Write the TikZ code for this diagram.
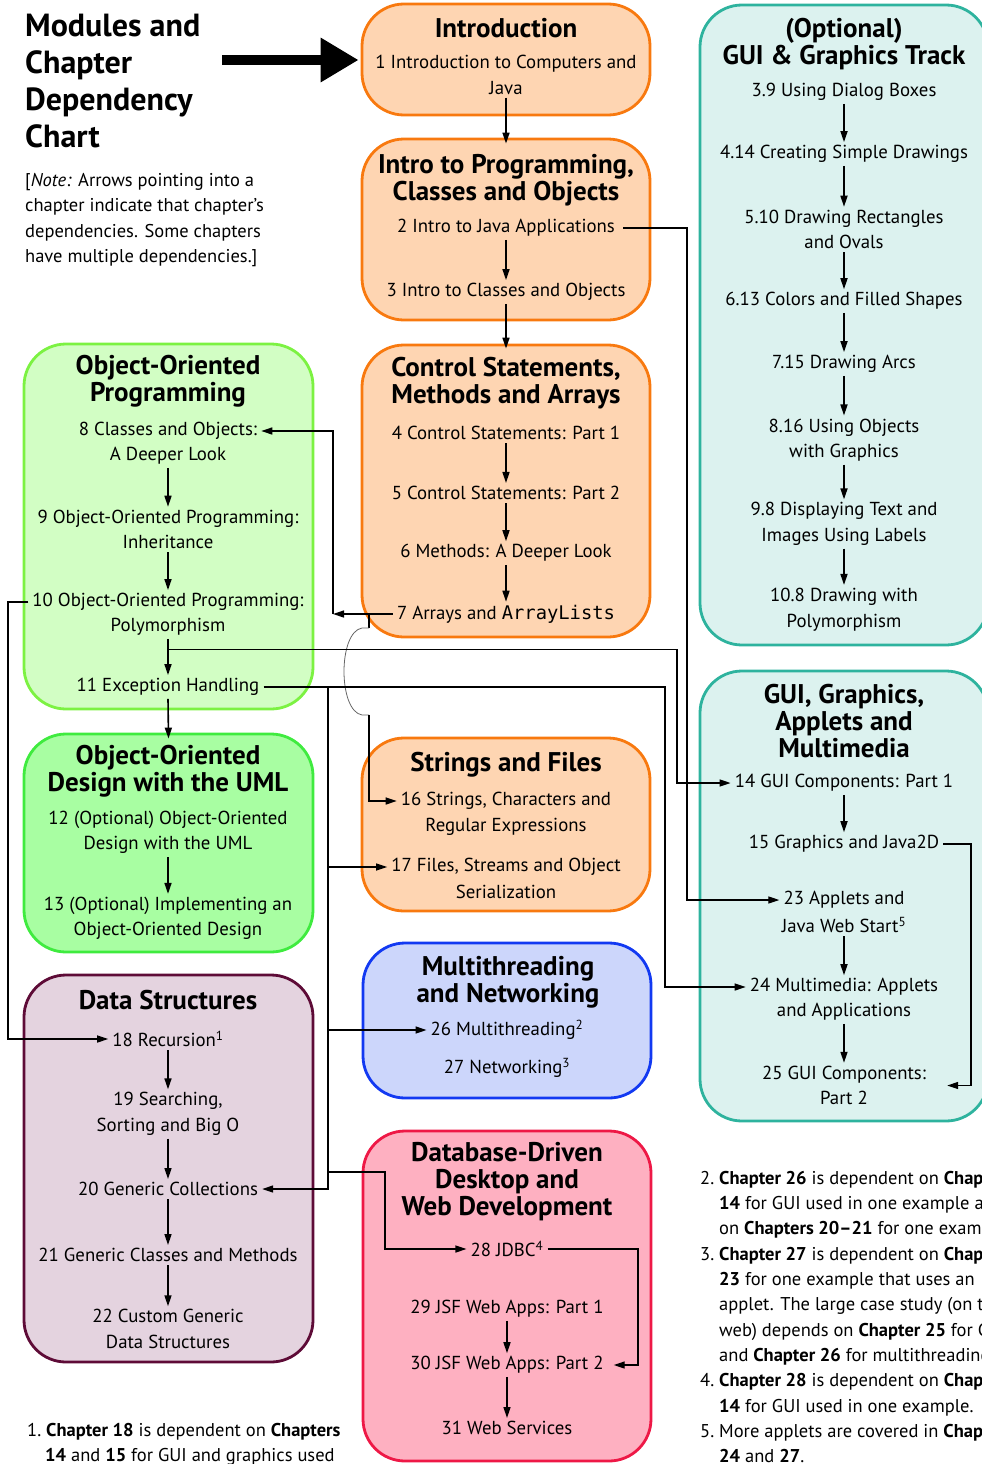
\documentclass[tikz,border=0pt]{standalone}
\usepackage{fontspec}
\setmainfont{PT Sans}
\newfontfamily\codefont{DejaVu Sans Mono}
\usetikzlibrary{arrows.meta,calc}
\definecolor{oF}{HTML}{FED5B2}
\definecolor{oD}{HTML}{F8790F}
\definecolor{gaF}{HTML}{D2FEC4}
\definecolor{gaD}{HTML}{7CF242}
\definecolor{gbF}{HTML}{A8FEA2}
\definecolor{gbD}{HTML}{3FEB3F}
\definecolor{dsF}{HTML}{E4D3DF}
\definecolor{dsD}{HTML}{5E0B37}
\definecolor{bF}{HTML}{CCD6FB}
\definecolor{bD}{HTML}{1239F2}
\definecolor{rF}{HTML}{FEB0C1}
\definecolor{rD}{HTML}{EE1846}
\definecolor{tF}{HTML}{DCF2EF}
\definecolor{tD}{HTML}{2EB39E}
\begin{document}
\begin{tikzpicture}[x=1pt,y=-1pt,
  box/.style={rectangle, rounded corners=42pt, line width=2.8pt, inner sep=0pt},
  obox/.style={box, draw=oD, fill=oF},
  gabox/.style={box, draw=gaD, fill=gaF},
  gbbox/.style={box, draw=gbD, fill=gbF},
  dsbox/.style={box, draw=dsD, fill=dsF},
  bbox/.style={box, draw=bD, fill=bF},
  rbox/.style={box, draw=rD, fill=rF},
  tbox/.style={box, draw=tD, fill=tF},
  ttl/.style={font=\bfseries\fontsize{27}{27}\selectfont, align=center, inner sep=0pt},
  ch/.style={font=\fontsize{18.8}{25.5}\selectfont, align=center, inner xsep=4pt, inner ysep=3pt},
  fn/.style={font=\fontsize{18.5}{25.3}\selectfont, align=left, inner sep=0pt, anchor=west},
  arr/.style={line width=1.3pt, -{Triangle[length=11pt,width=7pt]}},
  chain/.style={line width=1.6pt, -{Triangle[length=11pt,width=7pt]}},
  ln/.style={line width=1.3pt},
  hopln/.style={line width=0.8pt, draw=black!60},
  bigarrow/.style={line width=10pt, -{Triangle[length=38pt,width=42pt]}}
]
\useasboundingbox (0,0) rectangle (982,1464);
\clip (0,0) rectangle (982,1464);

% ---------- boxes ----------
\node[obox, minimum width=288pt, minimum height=111pt] (bIntro) at (506,59.5) {};
\node[obox, minimum width=288pt, minimum height=181pt] (bIntro2) at (506,229.5) {};
\node[obox, minimum width=288pt, minimum height=292pt] (bCtrl) at (506,491) {};
\node[obox, minimum width=288pt, minimum height=173pt] (bStr) at (506,824.5) {};
\node[bbox, minimum width=288pt, minimum height=155pt] (bMT) at (507,1020.5) {};
\node[rbox, minimum width=288pt, minimum height=330pt] (bDB) at (507,1296) {};
\node[gabox, minimum width=289pt, minimum height=365pt] (bOOP) at (168.5,526.5) {};
\node[gbbox, minimum width=289pt, minimum height=218pt] (bOOD) at (168.5,843) {};
\node[dsbox, minimum width=289pt, minimum height=387pt] (bDS) at (168.5,1168.5) {};
\node[tbox, minimum width=288pt, minimum height=640pt] (bGT) at (844,325) {};
\node[tbox, minimum width=288pt, minimum height=450pt] (bGUI) at (844,896) {};

% ---------- header ----------
\node[font=\bfseries\fontsize{32}{37.3}\selectfont, align=left, inner sep=0pt, anchor=west] (hdr) at (25,81) {Modules and\\Chapter\\Dependency\\Chart};
\node[fn] (note) at (25,220) {[\textit{Note:} Arrows pointing into a\\chapter indicate that chapter’s\\dependencies. Some chapters\\have multiple dependencies.]};
\coordinate (bigS) at (222,60);

% ---------- titles ----------
\node[ttl] (tIntro) at (506,28) {Introduction};
\node[ttl] (tIntro2) at (506,180) {Intro to Programming,\\Classes and Objects};
\node[ttl] (tCtrl) at (506,383) {Control Statements,\\Methods and Arrays};
\node[ttl] (tStr) at (506,765) {Strings and Files};
\node[ttl] (tMT) at (508,982) {Multithreading\\and Networking};
\node[ttl] (tDB) at (507,1182) {Database-Driven\\Desktop and\\Web Development};
\node[ttl] (tOOP) at (168,381) {Object-Oriented\\Programming};
\node[ttl] (tOOD) at (168,771) {Object-Oriented\\Design with the UML};
\node[ttl] (tDS) at (168,1000) {Data Structures};
\node[ttl] (tGT) at (844,44.5) {(Optional)\\GUI \& Graphics Track};
\node[ttl] (tGUI) at (844,721) {GUI, Graphics,\\Applets and\\Multimedia};

% ---------- chapters ----------
\node[ch] (ch1) at (506,75) {1 Introduction to Computers and\\Java};
\node[ch] (ch2) at (506,228) {2 Intro to Java Applications};
\node[ch] (ch3) at (506,292) {3 Intro to Classes and Objects};
\node[ch] (ch4) at (506,433) {4 Control Statements: Part 1};
\node[ch] (ch5) at (506,493) {5 Control Statements: Part 2};
\node[ch] (ch6) at (506,553) {6 Methods: A Deeper Look};
\node[ch] (ch7) at (506,614) {7 Arrays and {\codefont ArrayLists}};
\node[ch] (ch16a) at (506,801) {16 Strings, Characters and};
\node[ch] (ch16b) at (506,827) {Regular Expressions};
\node[ch] (ch17a) at (506,867) {17 Files, Streams and Object};
\node[ch] (ch17b) at (506,892) {Serialization};
\node[ch] (ch26) at (507,1030) {26 Multithreading\textsuperscript{2}};
\node[ch] (ch27) at (507,1068) {27 Networking\textsuperscript{3}};
\node[ch] (ch28) at (507,1249) {28 JDBC\textsuperscript{4}};
\node[ch] (ch29) at (507,1309) {29 JSF Web Apps: Part 1};
\node[ch] (ch30) at (507,1365) {30 JSF Web Apps: Part 2};
\node[ch] (ch31) at (507,1428) {31 Web Services};
\node[ch] (ch8a) at (168,431) {8 Classes and Objects:};
\node[ch] (ch8b) at (168,456) {A Deeper Look};
\node[ch] (ch9) at (168,529.5) {9 Object-Oriented Programming:\\Inheritance};
\node[ch] (ch10a) at (168,602) {10 Object-Oriented Programming:};
\node[ch] (ch10b) at (168,627) {Polymorphism};
\node[ch] (ch11) at (168,687) {11 Exception Handling};
\node[ch] (ch12) at (168,832.5) {12 (Optional) Object-Oriented\\Design with the UML};
\node[ch] (ch13) at (168,918.5) {13 (Optional) Implementing an\\Object-Oriented Design};
\node[ch] (ch18) at (168,1039) {18 Recursion\textsuperscript{1}};
\node[ch] (ch19) at (168,1114) {19 Searching,\\Sorting and Big O};
\node[ch] (ch20) at (168,1189) {20 Generic Collections};
\node[ch] (ch21) at (168,1255) {21 Generic Classes and Methods};
\node[ch] (ch22) at (168,1329) {22 Custom Generic\\Data Structures};
\node[ch] (g3) at (844,92) {3.9 Using Dialog Boxes};
\node[ch] (g4) at (844,154) {4.14 Creating Simple Drawings};
\node[ch] (g5) at (844,229.5) {5.10 Drawing Rectangles\\and Ovals};
\node[ch] (g6) at (844,301) {6.13 Colors and Filled Shapes};
\node[ch] (g7) at (844,364) {7.15 Drawing Arcs};
\node[ch] (g8) at (844,440) {8.16 Using Objects\\with Graphics};
\node[ch] (g9) at (844,524) {9.8 Displaying Text and\\Images Using Labels};
\node[ch] (g10) at (844,609.5) {10.8 Drawing with\\Polymorphism};
\node[ch] (ch14) at (844,783) {14 GUI Components: Part 1};
\node[ch] (ch15) at (844,844) {15 Graphics and Java2D};
\node[ch] (ch23a) at (844,900) {23 Applets and};
\node[ch] (ch23b) at (844,925) {Java Web Start\textsuperscript{5}};
\node[ch] (ch24a) at (844,987) {24 Multimedia: Applets};
\node[ch] (ch24b) at (844,1012) {and Applications};
\node[ch] (ch25) at (844,1085.5) {25 GUI Components:\\Part 2};

% ---------- footnotes ----------
\node[fn] (fnL) at (27,1444) {1.\ \textbf{Chapter 18} is dependent on \textbf{Chapters}\\\hspace*{18pt}\textbf{14} and \textbf{15} for GUI and graphics used};
\node[fn] (fnR) at (700,1317) {2.\ \textbf{Chapter 26} is dependent on \textbf{Chapter}\\
\hspace*{19pt}\textbf{14} for GUI used in one example and\\
\hspace*{19pt}on \textbf{Chapters 20–21} for one example.\\
3.\ \textbf{Chapter 27} is dependent on \textbf{Chapter}\\
\hspace*{19pt}\textbf{23} for one example that uses an\\
\hspace*{19pt}applet. The large case study (on the\\
\hspace*{19pt}web) depends on \textbf{Chapter 25} for GUI\\
\hspace*{19pt}and \textbf{Chapter 26} for multithreading.\\
4.\ \textbf{Chapter 28} is dependent on \textbf{Chapter}\\
\hspace*{19pt}\textbf{14} for GUI used in one example.\\
5.\ More applets are covered in \textbf{Chapters}\\
\hspace*{19pt}\textbf{24} and \textbf{27}.};

% ---------- corridor coordinates ----------
\coordinate (vA) at (687,0);
\coordinate (vB) at (677,0);
\coordinate (vC) at (665,0);
\coordinate (vD) at (328,0);
\coordinate (vE) at (333,0);
\coordinate (vF) at (369,0);
\coordinate (vG) at (8,0);
\coordinate (vH) at (385,0);
\coordinate (vI) at (638,0);
\coordinate (vJ) at (971,0);
\coordinate (hop1) at (369,628);
\coordinate (hop2) at (369,715);
\coordinate (b28) at (328,1172);
\coordinate (j10) at ($(ch10b.south)!0.3!(ch11.north)$);

% ---------- connectors ----------
\draw[bigarrow] (bigS) -- ($(bIntro.west)+(-2,0.5)$);
\draw[chain] (ch1.south) -- ($(bIntro2.north)+(0,6)$);
\draw[chain] (ch3.south) -- ($(bCtrl.north)+(0,5)$);
\draw[chain] (ch11.south) -- ($(bOOD.north)+(0,6)$);
\foreach \a/\b in {ch2/ch3, ch4/ch5, ch5/ch6, ch6/ch7, ch8b/ch9, ch9/ch10a, ch10b/ch11,
  ch12/ch13, ch18/ch19, ch19/ch20, ch20/ch21, ch21/ch22, g3/g4, g4/g5, g5/g6, g6/g7,
  g7/g8, g8/g9, g9/g10, ch14/ch15, ch23b/ch24a, ch24b/ch25, ch29/ch30, ch30/ch31}
  \draw[chain] (\a.south) -- (\b.north);

% 2 -> 23
\draw[arr] ($(ch2.east)+(4,0)$) -| (vA |- ch23a.west) -- (ch23a.west);
% 7 -> 8
\draw[arr] (ch7.west) -- (vE |- ch7.west);
\draw[arr] (vE |- ch7.west) |- (ch8a.east);
% 7 -> 16 with hop
\draw[ln] (vF |- ch7.west) -- (hop1);
\draw[hopln] (hop1) -- ++(-7,0) .. controls +(-24,4) and +(-24,-4) .. ($(hop2)+(-7,0)$) -- (hop2);
\draw[arr] (hop2) |- (ch16a.west);
% 10 -> 18
\draw[arr] (ch10a.west) -| (vG |- ch18.west) -- (ch18.west);
% 10 -> 14
\draw[arr] (j10) -| (vB |- ch14.west) -- (ch14.west);
% 11 -> 24
\draw[arr] (ch11.east) -| (vC |- ch24a.west) -- (ch24a.west);
% 11 -> 20, 17, 26, 28
\draw[arr] (vD |- ch11.east) |- (ch20.east);
\draw[arr] (vD |- ch17a.west) -- (ch17a.west);
\draw[arr] (vD |- ch26.west) -- (ch26.west);
\draw[arr] (b28) -| (vH |- ch28.west) -- (ch28.west);
% 28 -> 30
\draw[arr] (ch28.east) -| (vI |- ch30.east) -- ($(ch30.east)+(6,0)$);
% 15 -> 25
\draw[arr] (ch15.east) -| (vJ |- ch25.east) -- ($(ch25.east)+(17,0)$);
\end{tikzpicture}
\end{document}
